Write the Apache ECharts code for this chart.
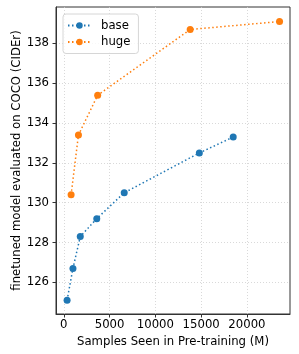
<!DOCTYPE html>
<html>
<head>
<meta charset="utf-8">
<script src="https://cdn.jsdelivr.net/npm/echarts@6/dist/echarts.min.js"></script>
<style>
html,body{margin:0;padding:0;background:#fff;}
#chart{width:299px;height:354px;}
</style>
</head>
<body>
<div id="chart"></div>
<script>
// Data
const baseSamples = [360, 1000, 1800, 3600, 6600, 14800, 18500];
const baseCider   = [125.1, 126.7, 128.3, 129.2, 130.5, 132.5, 133.3];
const hugeSamples = [800, 1600, 3700, 13800, 23560];
const hugeCider   = [130.4, 133.4, 135.4, 138.7, 139.1];
const xTicks = [0, 5000, 10000, 15000, 20000];
const yTicks = [126, 128, 130, 132, 134, 136, 138];
const seriesNames = ['base', 'huge'];
const colors = ['#1f77b4', '#ff7f0e'];

const font = 'DejaVu Sans';
const fs = 11.7;
const zip = (xs, ys) => xs.map((x, i) => [x, ys[i]]);

const chart = echarts.init(document.getElementById('chart'), null, {renderer: 'canvas'});
const mkSeries = (name, data, color) => ({
  name: name,
  type: 'line',
  data: data,
  symbol: 'circle',
  symbolSize: 7,
  showSymbol: true,
  color: color,
  itemStyle: {color: color},
  lineStyle: {color: color, width: 1.5, type: [1.5, 2.5]},
  emphasis: {disabled: true},
  animation: false
});

chart.setOption({
  animation: false,
  backgroundColor: '#fff',
  grid: {left: 56, right: 9, top: 7, bottom: 40, show: true, borderColor: '#333', borderWidth: 1,
         containLabel: false, outerBoundsMode: 'none'},
  legend: {
    left: 63, top: 14,
    orient: 'vertical',
    data: seriesNames,
    itemWidth: 23, itemHeight: 8, itemGap: 1.5,
    padding: [4, 8, 4, 4],
    borderColor: '#d6d6d6', borderWidth: 1, borderRadius: 3,
    backgroundColor: 'rgba(255,255,255,0.8)',
    textStyle: {fontFamily: font, fontSize: fs, color: '#000', padding: [0, 0, 0, 5], lineHeight: 15}
  },
  xAxis: {
    type: 'value',
    min: -850, max: 24700,
    name: 'Samples Seen in Pre-training (M)',
    nameLocation: 'middle', nameGap: 22, nameMoveOverlap: false,
    nameTextStyle: {fontFamily: font, fontSize: fs, color: '#000'},
    axisLine: {show: true, onZero: false, lineStyle: {color: '#333', width: 1}},
    axisTick: {show: true, inside: false, length: 3.5, lineStyle: {color: '#333'}, customValues: xTicks},
    axisLabel: {fontFamily: font, fontSize: fs, color: '#000', margin: 5, customValues: xTicks, formatter: v => String(v)},
    splitLine: {show: true, lineStyle: {color: '#cfcfcf', type: [1, 2], width: 0.8}}
  },
  yAxis: {
    type: 'value',
    min: 124.41, max: 139.83,
    name: 'finetuned model evaluated on COCO (CIDEr)',
    nameLocation: 'middle', nameGap: 33, nameRotate: 90, nameMoveOverlap: false,
    nameTextStyle: {fontFamily: font, fontSize: fs, color: '#000'},
    axisLine: {show: true, onZero: false, lineStyle: {color: '#333', width: 1}},
    axisTick: {show: true, inside: false, length: 3.5, lineStyle: {color: '#333'}, customValues: yTicks},
    axisLabel: {fontFamily: font, fontSize: fs, color: '#000', margin: 7, customValues: yTicks, formatter: v => String(v)},
    splitLine: {show: true, lineStyle: {color: '#cfcfcf', type: [1, 2], width: 0.8}}
  },
  series: [
    mkSeries(seriesNames[0], zip(baseSamples, baseCider), colors[0]),
    mkSeries(seriesNames[1], zip(hugeSamples, hugeCider), colors[1])
  ]
});
</script>
</body>
</html>
